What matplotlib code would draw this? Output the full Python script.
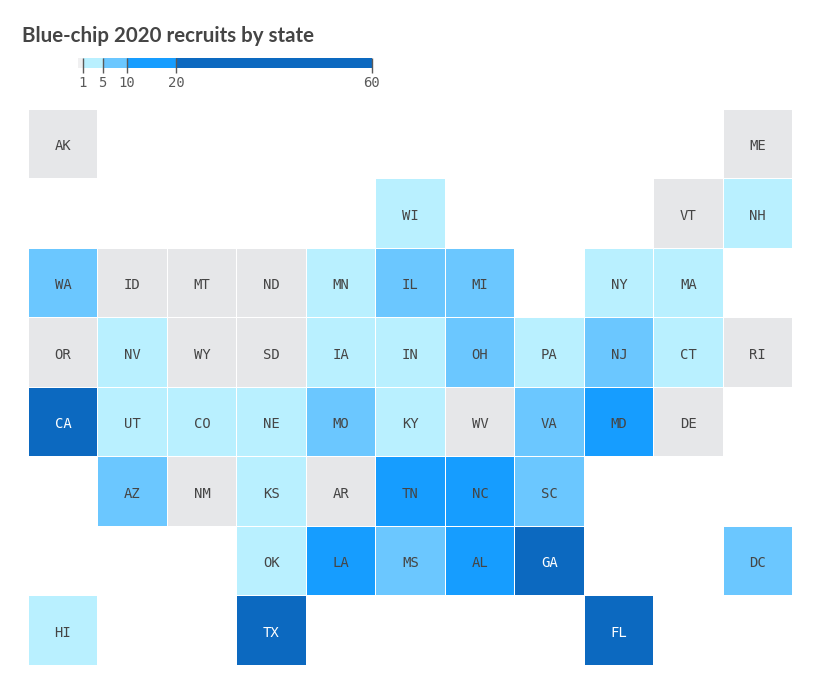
import numpy as np
import matplotlib
matplotlib.use('Agg')
import matplotlib.pyplot as plt
from matplotlib.colors import ListedColormap, BoundaryNorm

W, H = 826, 696

title = 'Blue-chip 2020 recruits by state'

# tile grid, one string per row, '..' = no state
grid_rows = [
    'AK .. .. .. .. .. .. .. .. .. ME',
    '.. .. .. .. .. WI .. .. .. VT NH',
    'WA ID MT ND MN IL MI .. NY MA ..',
    'OR NV WY SD IA IN OH PA NJ CT RI',
    'CA UT CO NE MO KY WV VA MD DE ..',
    '.. AZ NM KS AR TN NC SC .. .. ..',
    '.. .. .. OK LA MS AL GA .. .. DC',
    'HI .. .. TX .. .. .. .. FL .. ..',
]

# recruits per state, estimated from the colour bins only
zero_states = ['AK', 'ME', 'VT', 'ID', 'MT', 'ND', 'OR', 'WY', 'SD', 'RI', 'WV', 'DE', 'NM', 'AR']
low_states = ['WI', 'NH', 'MN', 'NY', 'MA', 'NV', 'IA', 'IN', 'PA', 'CT', 'UT', 'CO', 'NE', 'KY', 'KS', 'OK', 'HI']
mid_states = ['WA', 'IL', 'MI', 'OH', 'NJ', 'MO', 'VA', 'AZ', 'SC', 'MS', 'DC']
high_states = ['MD', 'TN', 'NC', 'LA', 'AL']
top_states = ['CA', 'GA', 'TX', 'FL']

bin_edges = [0, 1, 5, 10, 20, 60]
bin_ticks = [1, 5, 10, 20, 60]
bin_colors = ['#e6e7e9', '#b9f0ff', '#6bc7ff', '#169dff', '#0c69c0']

values = {}
for group, v in [(zero_states, 0.5), (low_states, 3), (mid_states, 7), (high_states, 15), (top_states, 30)]:
    for s in group:
        values[s] = v

cmap = ListedColormap(bin_colors)
norm = BoundaryNorm(bin_edges, cmap.N)

names = [row.split() for row in grid_rows]
z = np.ma.masked_invalid([[values.get(s, np.nan) for s in row] for row in names])

fig = plt.figure(figsize=(W / 100, H / 100), dpi=100)
fig.text(22 / W, 1 - 36 / H, title, fontsize=14.8, fontfamily='Lato', fontweight='bold',
         color='#454545', va='center', ha='left')

# tile map
ax = fig.add_axes([27.8 / W, 1 - 665 / H, 764.4 / W, 556.4 / H])
ax.pcolormesh(z, cmap=cmap, norm=norm, edgecolors='white', linewidth=0.6)
ax.set_ylim(len(names), 0)
ax.axis('off')
for r, row in enumerate(names):
    for c, s in enumerate(row):
        if s == '..':
            continue
        ax.annotate(s, (c + 0.5, r + 0.5), xytext=(0.3, -2.0), textcoords='offset points',
                    ha='center', va='center', fontsize=10, fontfamily='DejaVu Sans Mono',
                    color='white' if s in top_states else '#454545')

# legend bar
leg = fig.add_axes([78 / W, 1 - 68 / H, 294 / W, 10 / H])
for i in range(len(bin_colors)):
    leg.barh(0, bin_edges[i + 1] - bin_edges[i], left=bin_edges[i], height=1,
             color=bin_colors[i], alpha=0.6 if i == 0 else 1)
leg.set_xlim(bin_edges[0], bin_edges[-1])
leg.set_ylim(-0.5, 0.5)
leg.vlines(bin_ticks, -1.0, 0.5, color='#5a5a5a', linewidth=1, clip_on=False)
leg.set_xticks(bin_ticks)
leg.set_xticklabels(bin_ticks, fontsize=10, fontfamily='DejaVu Sans Mono', color='#5a5a5a')
leg.tick_params(axis='x', length=0, pad=6)
leg.set_yticks([])
for sp in leg.spines.values():
    sp.set_visible(False)

fig.savefig('out.png', dpi=100)
